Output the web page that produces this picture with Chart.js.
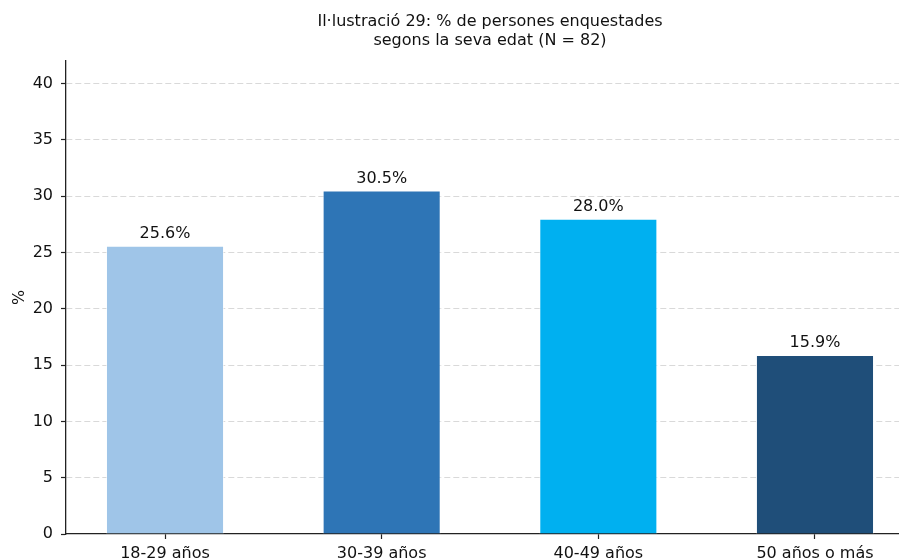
<!DOCTYPE html>
<html>
<head>
<meta charset="utf-8">
<script src="https://cdn.jsdelivr.net/npm/chart.js@4.4.1/dist/chart.umd.min.js"></script>
<style>
  html, body { margin: 0; padding: 0; overflow: hidden; background: #fff; }
  #wrap { width: 914px; height: 574px; position: relative; }
</style>
</head>
<body>
<div id="wrap"><canvas id="chart"></canvas></div>
<script>
// data
const categories = ['18-29 años', '30-39 años', '40-49 años', '50 años o más'];
const percents = [25.6, 30.5, 28.0, 15.9];
const barColors = ['#9fc5e8', '#2e75b6', '#00b0f0', '#1f4e79'];
const yTicks = [0, 5, 10, 15, 20, 25, 30, 35, 40];
const titleLines = ['Il·lustració 29: % de persones enquestades', 'segons la seva edat (N = 82)'];

const FONT = "'DejaVu Sans', sans-serif";

// title over the axes (centred on the plot area, not the canvas)
const titlePlugin = {
    id: 'axTitle',
    afterDraw(chart) {
        const c = chart.ctx;
        const a = chart.chartArea;
        const cx = (a.left + a.right) / 2;
        c.save();
        c.font = '16px ' + FONT;
        c.fillStyle = '#111';
        c.textAlign = 'center';
        c.textBaseline = 'alphabetic';
        c.fillText(titleLines[0], cx, 26);
        c.fillText(titleLines[1], cx, 45);
        c.restore();
    }
};

// value labels above bars
const valuePlugin = {
    id: 'barValues',
    afterDatasetsDraw(chart) {
        const c = chart.ctx;
        const meta = chart.getDatasetMeta(0);
        c.save();
        c.font = '16px ' + FONT;
        c.fillStyle = '#111';
        c.textAlign = 'center';
        c.textBaseline = 'alphabetic';
        meta.data.forEach((bar, i) => {
            c.fillText(percents[i].toFixed(1) + '%', bar.x, bar.y - 8);
        });
        c.restore();
    }
};

const ctx = document.getElementById('chart').getContext('2d');
const chart = new Chart(ctx, {
    type: 'bar',
    data: {
        datasets: [{
            data: percents.map((v, i) => ({ x: i, y: v })),
            backgroundColor: barColors,
            borderColor: 'rgba(255,255,255,0.6)',
            borderWidth: 1,
            categoryPercentage: 1,
            barPercentage: 0.545
        }]
    },
    options: {
        responsive: true,
        maintainAspectRatio: false,
        animation: false,
        layout: { padding: { top: 61, left: 0, right: 0, bottom: 0 } },
        plugins: {
            legend: { display: false },
            tooltip: { enabled: false }
        },
        scales: {
            x: {
                type: 'linear',
                offset: false,
                min: -0.457,
                max: 3.457,
                afterBuildTicks: s => { s.ticks = categories.map((c, i) => ({ value: i })); },
                afterFit: s => { s.height = 40; },
                ticks: {
                    callback: v => categories[v],
                    font: { family: FONT, size: 16 },
                    color: '#111',
                    padding: 5,
                    maxRotation: 0,
                    autoSkip: false
                },
                grid: {
                    offset: false,
                    drawOnChartArea: false,
                    drawTicks: true,
                    tickLength: 5,
                    tickColor: '#222',
                    tickWidth: 1.2
                },
                border: { display: true, color: '#222', width: 1.3 }
            },
            y: {
                min: 0,
                max: 42,
                afterBuildTicks: s => { s.ticks = yTicks.map(v => ({ value: v })); },
                afterFit: s => { s.width = 66; },
                ticks: {
                    font: { family: FONT, size: 16 },
                    color: '#111',
                    padding: 8
                },
                title: {
                    display: true,
                    text: '%',
                    font: { family: FONT, size: 16 },
                    color: '#111',
                    padding: { top: 10, bottom: 0 }
                },
                grid: {
                    // no dashed line on top of the x axis
                    color: c => (c.tick && c.tick.value === 0) ? 'rgba(0,0,0,0)' : '#d9d9d9',
                    lineWidth: 1,
                    tickLength: 5,
                    tickColor: '#222',
                    tickWidth: 1.2
                },
                border: { display: true, color: '#222', width: 1.3, dash: [6, 3] }
            }
        }
    },
    plugins: [titlePlugin, valuePlugin]
});
</script>
</body>
</html>
